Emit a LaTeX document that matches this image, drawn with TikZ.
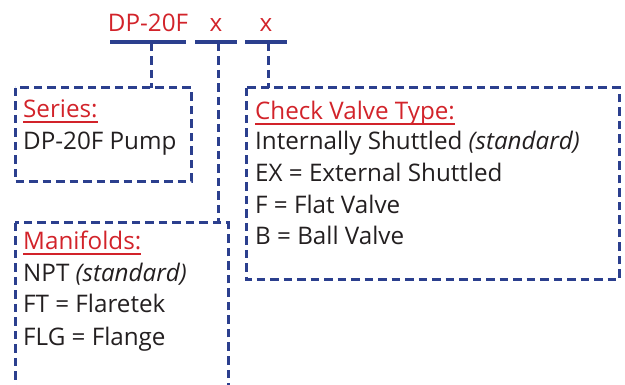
\documentclass[tikz,border=0pt]{standalone}
\usepackage{fontspec}
\setmainfont{Open Sans}
\definecolor{codered}{HTML}{D2232A}
\definecolor{navy}{HTML}{2B3F8E}
\definecolor{ink}{HTML}{231F20}
\tikzset{
  txt/.style={anchor=base west, inner sep=0pt, font=\fontsize{24.2}{28}\selectfont, text=ink},
  head/.style={txt, text=codered},
  code/.style={anchor=base, inner sep=0pt, font=\fontsize{24.2}{28}\selectfont, text=codered},
  codeline/.style={draw=navy, line width=3.2pt},
  dashbox/.style={draw=navy, line width=3pt, dash pattern=on 8.5pt off 5pt},
  hline/.style={draw=codered, line width=1.5pt}
}
\begin{document}
\begin{tikzpicture}[x=1pt,y=-1pt]
\useasboundingbox (0,0) rectangle (625,385);
\clip (0,0) rectangle (625,385);
% code
\node[code] (c1) at (148,32) {DP-20F};
\node[code] (c2) at (216,32) {x};
\node[code] (c3) at (266,32) {x};
\coordinate (u1a) at (110,42); \coordinate (u1b) at (186,42);
\coordinate (u2a) at (195,42); \coordinate (u2b) at (237,42);
\coordinate (u3a) at (245,42); \coordinate (u3b) at (287,42);
\draw[codeline] (u1a) -- (u1b);
\draw[codeline] (u2a) -- (u2b);
\draw[codeline] (u3a) -- (u3b);
\coordinate (t1) at (151,43);
\coordinate (t2) at (218,43);
\coordinate (t3) at (268,43);
% boxes
\draw[dashbox] (15,88) rectangle (191,182);
\coordinate (b1) at (151,88);
\draw[dashbox] (246,88) rectangle (619,280);
\coordinate (b3) at (268,88);
\draw[dashbox] (15,223) rectangle (228,410);
\coordinate (b2) at (218,223);
% connectors
\draw[dashbox] (t1) -- (b1);
\draw[dashbox] (t2) -- (b2);
\draw[dashbox] (t3) -- (b3);
% Series
\node[head] (hs) at (23,118) {Series:};
\draw[hline] ([yshift=-4pt]hs.base west) -- ([yshift=-4pt]hs.base east);
\node[txt] (s1) at (23,150) {DP-20F Pump};
% Check valve
\node[head] (hc) at (255,120) {Check Valve Type:};
\draw[hline] ([yshift=-4pt]hc.base west) -- ([yshift=-4pt]hc.base east);
\node[txt] (v1) at (255,150) {Internally Shuttled \textit{(standard)}};
\node[txt] (v2) at (255,182) {EX = External Shuttled};
\node[txt] (v3) at (255,214) {F = Flat Valve};
\node[txt] (v4) at (255,245) {B = Ball Valve};
% Manifolds
\node[head] (hm) at (23,250) {Manifolds:};
\draw[hline] ([yshift=-4pt]hm.base west) -- ([yshift=-4pt]hm.base east);
\node[txt] (m1) at (23,282) {NPT \textit{(standard)}};
\node[txt] (m2) at (23,313) {FT = Flaretek};
\node[txt] (m3) at (23,345) {FLG = Flange};
\end{tikzpicture}
\end{document}
